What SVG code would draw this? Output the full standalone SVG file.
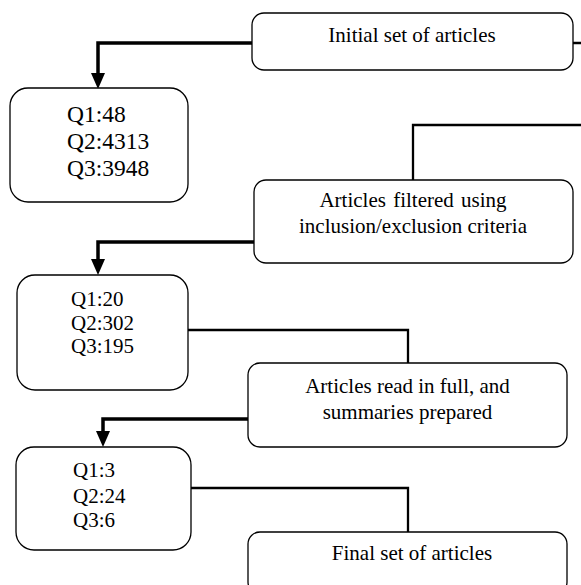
<svg xmlns="http://www.w3.org/2000/svg" width="581" height="585" viewBox="0 0 581 585">
<style>
.box{fill:#fff;stroke:#000;stroke-width:1.3}
.t{font-family:"Liberation Serif","Times New Roman",serif;font-size:21px;fill:#000}
.c{text-anchor:middle}
.arr{fill:none;stroke:#000;stroke-width:3.5}
.ln{fill:none;stroke:#000;stroke-width:2.3}
</style>
<defs>
<marker id="ah" markerUnits="userSpaceOnUse" markerWidth="16" markerHeight="14" refX="0" refY="7" orient="auto" overflow="visible">
<path d="M0,0 L16,7 L0,14 z" fill="#000"/>
</marker>
</defs>
<rect width="581" height="585" fill="#fff"/>
<g id="connectors">
<path class="arr" d="M252,43 H98 V73" marker-end="url(#ah)"/>
<path class="ln" d="M573,43 H586 V125 H413 V180"/>
<path class="arr" d="M254,242 H98 V259" marker-end="url(#ah)"/>
<path class="ln" d="M188,330 H408 V363"/>
<path class="arr" d="M248,419 H103 V431" marker-end="url(#ah)"/>
<path class="ln" d="M191,488 H408 V532"/>
</g>
<g id="initial">
<rect class="box" x="252" y="13" width="321" height="57" rx="12"/>
<text class="t c" x="412" y="42">Initial set of articles</text>
</g>
<g id="q-initial">
<rect class="box" x="10" y="88" width="178" height="114" rx="18"/>
<text class="t" style="font-size:23.5px" x="67" y="122">Q1:48</text>
<text class="t" style="font-size:23.5px" x="67" y="149">Q2:4313</text>
<text class="t" style="font-size:23.5px" x="67" y="176">Q3:3948</text>
</g>
<g id="filtered">
<rect class="box" x="254" y="180" width="319" height="83" rx="12"/>
<text class="t c" x="413" y="207" style="word-spacing:2px">Articles filtered using</text>
<text class="t c" x="413" y="233">inclusion/exclusion criteria</text>
</g>
<g id="q-filtered">
<rect class="box" x="17" y="275" width="171" height="115" rx="18"/>
<text class="t" x="71" y="306">Q1:20</text>
<text class="t" x="71" y="330">Q2:302</text>
<text class="t" x="71" y="353">Q3:195</text>
</g>
<g id="read">
<rect class="box" x="248" y="363" width="319" height="84" rx="12"/>
<text class="t c" x="407.5" y="393">Articles read in full, and</text>
<text class="t c" x="407.5" y="419">summaries prepared</text>
</g>
<g id="q-read">
<rect class="box" x="16" y="447" width="175" height="103" rx="18"/>
<text class="t" x="73" y="477">Q1:3</text>
<text class="t" x="73" y="503">Q2:24</text>
<text class="t" x="73" y="527">Q3:6</text>
</g>
<g id="final">
<rect class="box" x="248" y="532" width="319" height="62" rx="12"/>
<text class="t c" x="412" y="560">Final set of articles</text>
</g>
</svg>
